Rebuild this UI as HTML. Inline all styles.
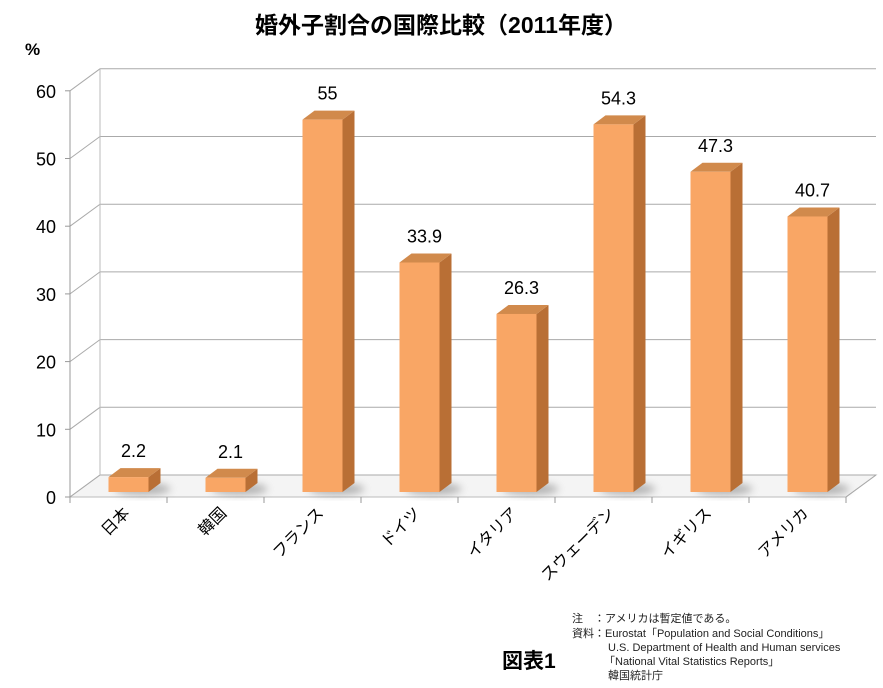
<!DOCTYPE html>
<html><head><meta charset="utf-8"><style>
body{margin:0;background:#fff;}
svg{display:block;font-family:"Liberation Sans","Noto Sans CJK JP",sans-serif;}
</style></head><body>
<svg id="c" width="883" height="688" viewBox="0 0 883 688">
<defs>
<filter id="blur" x="-50%" y="-50%" width="200%" height="200%"><feGaussianBlur stdDeviation="4"/></filter>
</defs>
<text x="441" y="33" text-anchor="middle" font-size="23" font-weight="bold" fill="#000">婚外子割合の国際比較（2011年度）</text>
<text x="25" y="55" font-size="17" font-weight="bold">%</text>
<g id="grid"></g>
<g id="bars"></g>
<g id="labels"></g>
<text x="502" y="668" font-size="21" font-weight="bold">図表1</text>
<g font-size="11" fill="#222">
<text x="572" y="622">注　：アメリカは暫定値である。</text>
<text x="572" y="637">資料：Eurostat「Population and Social Conditions」</text>
<text x="608" y="651">U.S. Department of Health and Human services</text>
<text x="604" y="665">「National Vital Statistics Reports」</text>
<text x="608" y="679">韓国統計庁</text>
</g>
</svg>
<script>
const categories=["日本","韓国","フランス","ドイツ","イタリア","スウェーデン","イギリス","アメリカ"];
const values=[2.2,2.1,55,33.9,26.3,54.3,47.3,40.7];
const yTicks=[0,10,20,30,40,50,60];
const NS="http://www.w3.org/2000/svg";
const x0=70,step=97,yBase=497,pxU=6.77,dx=30,dy=-22,barBase=492,barW=40,bdx=12,bdy=-9;
const yScale=v=>yBase-v*pxU;
const xScale=i=>x0+10+step*(i+0.5);
function mk(tag,attrs,parent){const e=document.createElementNS(NS,tag);for(const k in attrs)e.setAttribute(k,attrs[k]);parent.appendChild(e);return e;}
const grid=document.getElementById('grid'),bars=document.getElementById('bars'),labels=document.getElementById('labels');
const xEnd=x0+step*categories.length;
const floor=mk('polygon',{points:`${x0},${yBase} ${xEnd},${yBase} ${xEnd+dx},${yBase+dy} ${x0+dx},${yBase+dy}`,fill:'#f4f4f4',stroke:'#bbb'},grid);


yTicks.forEach(t=>{const y=yScale(t);
 const g=mk('path',{d:`M${x0},${y} L${x0+dx},${y+dy} L${xEnd+dx},${y+dy}`,fill:'none',stroke:'#aaa','stroke-width':1},grid);
 
 
 mk('line',{x1:x0-5,y1:y,x2:x0,y2:y,stroke:'#999'},grid);
 const tx=mk('text',{x:x0-14,y:y+7,'text-anchor':'end','font-size':18},grid);tx.textContent=t;
 
 
});
mk('line',{x1:x0,y1:yScale(60),x2:x0,y2:yBase,stroke:'#999'},grid);
mk('line',{x1:x0+dx,y1:yScale(60)+dy,x2:x0+dx,y2:yBase+dy,stroke:'#bbb'},grid);
mk('line',{x1:xEnd,y1:yBase,x2:xEnd+dx,y2:yBase+dy,stroke:'#aaa'},grid);
for(let i=0;i<=categories.length;i++){const x=x0+step*i;mk('line',{x1:x,y1:yBase,x2:x,y2:yBase+6,stroke:'#999'},grid);}
values.forEach((v,i)=>{
 const cx=xScale(i),l=cx-barW/2,r=cx+barW/2;
 const t=barBase-v*pxU;
 const g=mk('g',{},bars);
 
 
 mk('ellipse',{cx:cx+14,cy:barBase-3,rx:barW*0.7,ry:6,fill:'#888',opacity:0.6,filter:'url(#blur)'},g);
 mk('polygon',{points:`${r},${barBase} ${r+bdx},${barBase+bdy} ${r+bdx},${t+bdy} ${r},${t}`,fill:'#b96f35'},g);
 mk('polygon',{points:`${l},${t} ${l+bdx},${t+bdy} ${r+bdx},${t+bdy} ${r},${t}`,fill:'#d18a4c'},g);
 mk('rect',{x:l,y:t,width:barW,height:barBase-t,fill:'#f9a665'},g);
 const vl=mk('text',{x:cx+5,y:t-20,'text-anchor':'middle','font-size':18},labels);vl.textContent=v;
 
 
 const cl=mk('text',{x:cx+2,y:514,'text-anchor':'end','font-size':16,transform:`rotate(-45 ${cx+2} 514)`},labels);cl.textContent=categories[i];
 
 
});
</script>
</body></html>
